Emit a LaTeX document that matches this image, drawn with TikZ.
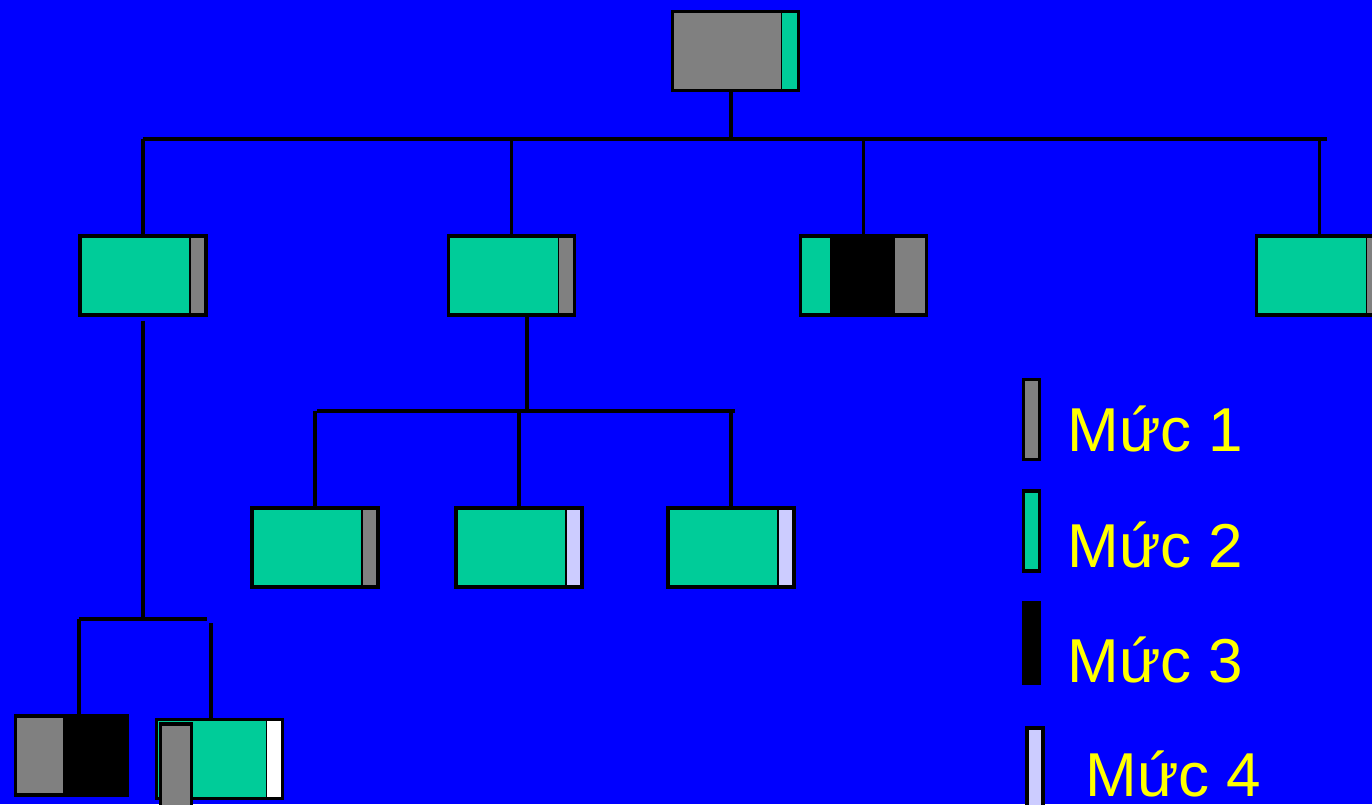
\documentclass[tikz,border=0pt]{standalone}
\usepackage{fontspec}
\setmainfont{Liberation Sans}
\definecolor{bgblue}{HTML}{0000FF}
\definecolor{lvone}{HTML}{808080}
\definecolor{lvtwo}{HTML}{00CC99}
\definecolor{lvthree}{HTML}{000000}
\definecolor{lvfour}{HTML}{CCCCFF}
\definecolor{lbltxt}{HTML}{FFFF00}
\tikzset{
  box/.style={draw=black, line width=1.6pt, inner sep=0pt, minimum width=63pt, minimum height=39.5pt},
  swatch/.style={draw=black, line width=1.6pt, inner sep=0pt, minimum width=8pt, minimum height=40pt},
  conn/.style={draw=black, line width=1.6pt},
  lbl/.style={text=lbltxt, inner sep=0pt, anchor=base west, font=\fontsize{31}{37}\selectfont},
  rstrip/.style 2 args={path picture={\draw[line width=0.8pt,fill=#1]
      ([xshift=-#2,yshift=1pt]path picture bounding box.north east) rectangle
      ([xshift=1pt,yshift=-1pt]path picture bounding box.south east);}},
  lstrip/.style 2 args={path picture={\draw[line width=0.8pt,fill=#1]
      ([xshift=#2,yshift=1pt]path picture bounding box.north west) rectangle
      ([xshift=-1pt,yshift=-1pt]path picture bounding box.south west);}},
  twostrip/.style 2 args={path picture={\draw[line width=0.8pt,fill=#1]
      ([xshift=15pt,yshift=1pt]path picture bounding box.north west) rectangle
      ([xshift=-1pt,yshift=-1pt]path picture bounding box.south west);
    \draw[line width=0.8pt,fill=#2]
      ([xshift=-16pt,yshift=1pt]path picture bounding box.north east) rectangle
      ([xshift=1pt,yshift=-1pt]path picture bounding box.south east);}}
}
\begin{document}
\begin{tikzpicture}[x=0.5pt,y=-0.5pt]
    %%% Background
    \fill[bgblue] (0,0) rectangle (1372,804);
    \useasboundingbox (0,0) rectangle (1372,804);

    %%% Root
    \node[box, fill=lvone, rstrip={lvtwo}{8.5pt}] (root) at (735.5,51) {};

    %%% Second row
    \node[box, fill=lvtwo, rstrip={lvone}{8pt}] (ka) at (143,275.5) {};
    \node[box, fill=lvtwo, rstrip={lvone}{8pt}] (kb) at (511.5,275.5) {};
    \node[box, fill=lvthree, twostrip={lvtwo}{lvone}] (kc) at (863.5,275.5) {};
    \node[box, fill=lvtwo, rstrip={lvone}{8pt}] (kd) at (1319.5,275.5) {};

    %%% Third row (under kb)
    \node[box, fill=lvtwo, rstrip={lvone}{8pt}] (ke) at (315,547.5) {};
    \node[box, fill=lvtwo, rstrip={lvfour}{8pt}] (kf) at (519,547.5) {};
    \node[box, fill=lvtwo, rstrip={lvfour}{8pt}] (kg) at (731,547.5) {};

    %%% Bottom row (under ka)
    \node[box, fill=lvthree, minimum width=56pt, lstrip={lvone}{24pt}] (kh) at (71.5,755.5) {};
    \node[box, fill=lvtwo, rstrip={white}{8pt}] (ki) at (219.5,759) {};
    \node[box, fill=lvone, minimum width=15.5pt, minimum height=42pt] (kj) at (176,766) {};

    %%% Tree lines
    \coordinate (j0) at (731,139);
    \coordinate (j0l) at (143,139);
    \coordinate (j0r) at (1327,139);
    \draw[conn] (root.south -| j0) -- (j0);
    \draw[conn] (j0l) -- (j0r);
    \foreach \k in {ka,kb,kc,kd}
        \draw[conn] (\k.north) -- (\k.north |- j0);

    \coordinate (j1) at (527,411);
    \coordinate (j1l) at (317,411);
    \coordinate (j1r) at (735,411);
    \draw[conn] (kb.south -| j1) -- (j1);
    \draw[conn] (j1l) -- (j1r);
    \foreach \k in {ke,kf,kg}
        \draw[conn] (\k.north) -- (\k.north |- j1);

    \coordinate (j2) at (143,619);
    \coordinate (j2r) at (207,619);
    \coordinate (h0) at (79,619);
    \coordinate (i0) at (211,623);
    \draw[conn] ([yshift=-2pt]ka.south) -- (j2);
    \draw[conn] (h0) -- (j2r);
    \draw[conn] (h0) -- (h0 |- kh.north);
    \draw[conn] (i0) -- (i0 |- ki.north);

    %%% Legend
    \node[swatch, fill=lvone] (sw1) at (1031.5,419.5) {};
    \node[swatch, fill=lvtwo] (sw2) at (1031.5,531) {};
    \node[swatch, fill=lvthree] (sw3) at (1031.5,643) {};
    \node[swatch, fill=lvfour] (sw4) at (1035,768) {};
    \node[lbl] (t1) at (1067,451) {Mức 1};
    \node[lbl] (t2) at (1067,567) {Mức 2};
    \node[lbl] (t3) at (1067,682) {Mức 3};
    \node[lbl] (t4) at (1085,796) {Mức 4};
\end{tikzpicture}
\end{document}
